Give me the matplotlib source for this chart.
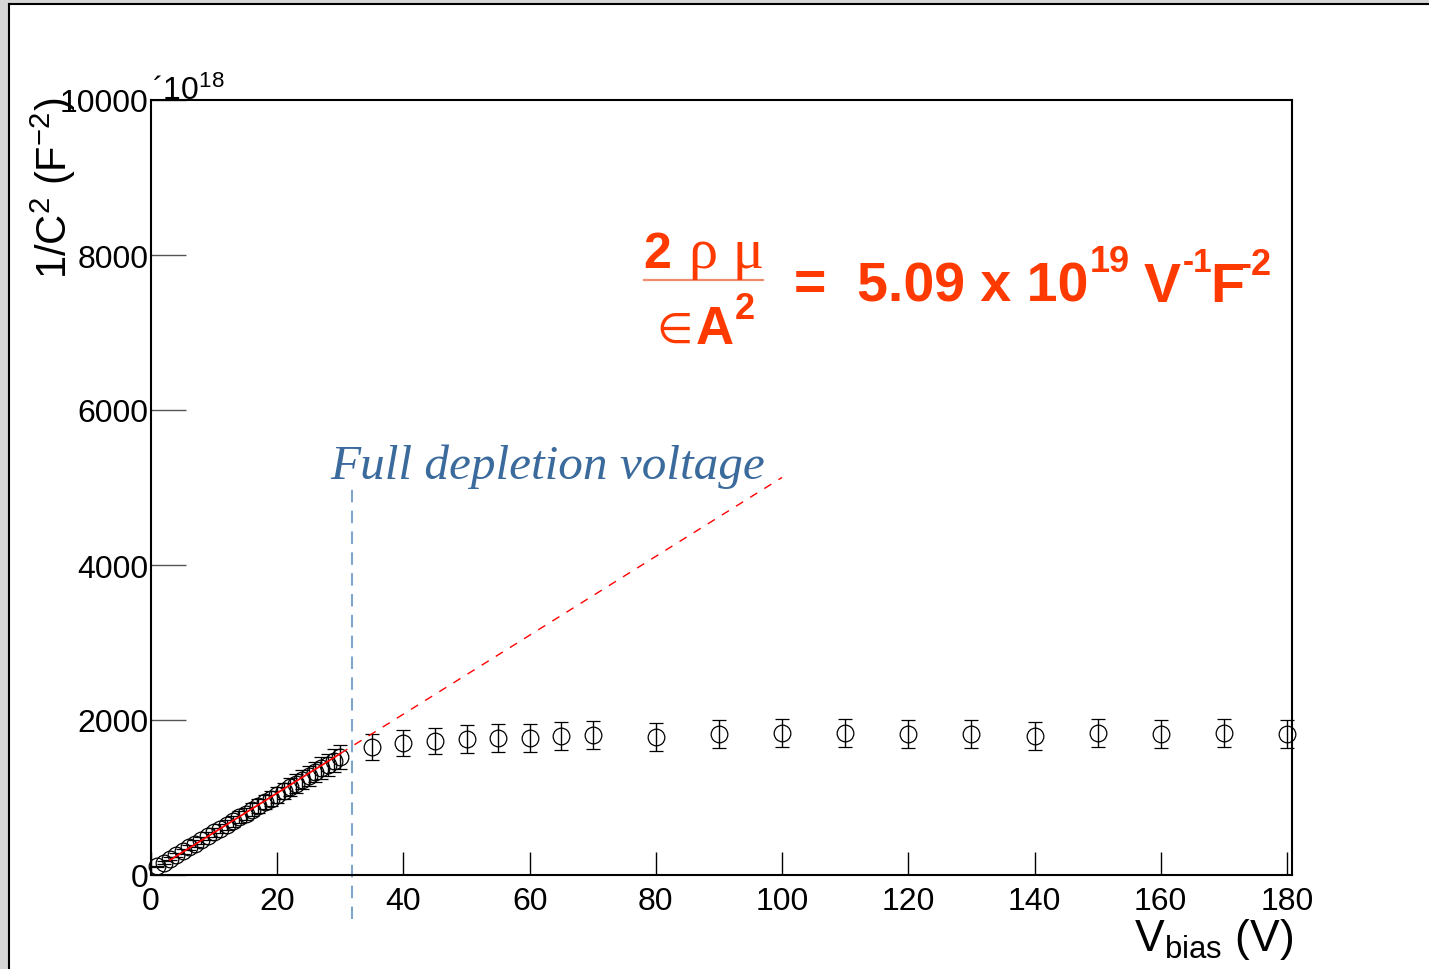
import matplotlib
matplotlib.use('Agg')

import numpy as np
import matplotlib.pyplot as plt
from matplotlib.patches import Rectangle
from matplotlib.lines import Line2D

plt.rcParams['font.family'] = ['Liberation Sans', 'DejaVu Sans']
plt.rcParams['mathtext.fontset'] = 'custom'
plt.rcParams['mathtext.rm'] = 'Liberation Sans'
plt.rcParams['mathtext.it'] = 'Liberation Sans:italic'
plt.rcParams['mathtext.bf'] = 'Liberation Sans:bold'

# Datos: 1/C^2 (en unidades de 1e18 F^-2) vs V_bias
v_low = [1, 2, 3, 4, 5, 6, 7, 8, 9, 10, 11, 12, 13, 14, 15,
         16, 17, 18, 19, 20, 21, 22, 23, 24, 25, 26, 27, 28, 29, 30]
c2_low = [110, 160, 210, 255, 305, 355, 405, 450, 500, 550, 600, 645, 695, 745, 790,
          840, 890, 940, 985, 1035, 1085, 1135, 1180, 1230, 1280, 1330, 1380, 1425, 1475, 1525]
v_high = [35, 40, 45, 50, 55, 60, 65, 70, 80, 90, 100, 110, 120, 130, 140, 150, 160, 170, 180]
c2_high = [1650, 1700, 1730, 1755, 1770, 1770, 1790, 1805, 1780, 1820, 1830, 1830,
           1820, 1820, 1795, 1830, 1820, 1830, 1820]

# errores ~10 %
v_all = np.array(v_low + v_high, dtype=float)
c2_all = np.array(c2_low + c2_high, dtype=float)
err = 0.1 * c2_all

# ajuste lineal
pend = 50.9
corte = 40.0
v_fit = [3.0, 30.0]
v_ext = [30.0, 100.0]
v_dep = 31.85

W, H = 1429, 970
fig = plt.figure(figsize=(W / 100, H / 100), dpi=100)
fig.patch.set_facecolor('white')

def fx(px):
    return px / W

def fy(py):
    return 1 - py / H

# marco gris de la ventana
fig.patches.append(Rectangle((0, 0), fx(8), 1, transform=fig.transFigure, color='#d6d6d6', zorder=0))
fig.patches.append(Rectangle((0, fy(4)), 1, 4 / H, transform=fig.transFigure, color='#d6d6d6', zorder=0))
fig.lines.append(Line2D([fx(8.5), fx(8.5)], [0, fy(4.5)], transform=fig.transFigure, color='black', lw=1.5))
fig.lines.append(Line2D([fx(8.5), 1], [fy(4.5), fy(4.5)], transform=fig.transFigure, color='black', lw=1.5))

ax = fig.add_axes([fx(151), fy(876), fx(1292) - fx(151), fy(101) - fy(876)])
ax.set_xlim(0, 180.8)
ax.set_ylim(0, 10000)

ax.errorbar(v_all, c2_all, yerr=err, fmt='o', mfc='none', mec='black', ecolor='black',
            ms=12, mew=0.9, elinewidth=1.0, capsize=5, capthick=1.0, zorder=3, clip_on=False)

vf = np.array(v_fit)
ax.plot(vf, pend * vf + corte, color='red', lw=1.3, zorder=4)
ve = np.array(v_ext)
ax.plot(ve, pend * ve + corte, color='red', lw=1.0, ls=(0, (6, 6)), zorder=4)

ax.plot([v_dep, v_dep], [-570, 4980], color='#7ea6cc', lw=1.5, ls=(0, (6, 4)), clip_on=False, zorder=2)

ax.set_xticks(range(0, 181, 20))
ax.set_yticks(range(0, 10001, 2000))
ax.set_yticklabels(['0', '2000', '4000', '6000', '8000', '10000'])
ax.tick_params(axis='x', direction='in', length=16.5, width=1.0, labelsize=23, pad=8)
ax.tick_params(axis='y', direction='in', length=25, width=1.0, labelsize=23, pad=2, color='#555555')
for s in ax.spines.values():
    s.set_linewidth(1.5)

# etiquetas de ejes al estilo ROOT
fig.text(fx(1293), fy(940), r'V$_{\mathrm{bias}}$ (V)', ha='right', va='center', fontsize=32)
fig.text(fx(53), fy(98), r'1/C$^2$ (F$^{-2}$)', rotation=90, ha='center', va='top', fontsize=30)
fig.text(fx(152), fy(100), '´10$^{18}$', ha='left', va='baseline', fontsize=23)

# texto de agotamiento
fig.text(fx(330), fy(479), 'Full depletion voltage', family='Liberation Serif', style='italic',
         color='#3b6a9c', fontsize=35.5, ha='left', va='baseline')

# fórmula
rojo = '#ff3a00'
fig.text(fx(643), fy(268), '2', fontsize=36, fontweight='bold', color=rojo, va='baseline')
fig.text(fx(689), fy(268), 'ρ μ', fontsize=42, family=['Liberation Serif', 'DejaVu Serif'], color=rojo, va='baseline')
fig.lines.append(Line2D([fx(644), fx(763)], [fy(281), fy(281)], transform=fig.transFigure, color='#f08a70', lw=1.6))
fig.text(fx(656), fy(343), '∈', fontsize=30, family=['DejaVu Sans'], color=rojo, va='baseline')
fig.text(fx(696), fy(344), 'A', fontsize=38, fontweight='bold', color=rojo, va='baseline')
fig.text(fx(735), fy(319), '2', fontsize=26, fontweight='bold', color=rojo, va='baseline')
fig.text(fx(794), fy(300), '=', fontsize=40, fontweight='bold', color=rojo, va='baseline')
fig.text(fx(857), fy(302), '5.09 x 10', fontsize=40, fontweight='bold', color=rojo, va='baseline')
fig.text(fx(1090), fy(272), '19', fontsize=26, fontweight='bold', color=rojo, va='baseline')
fig.text(fx(1144), fy(302), 'V', fontsize=40, fontweight='bold', color=rojo, va='baseline')
fig.text(fx(1183), fy(272), '-1', fontsize=24, fontweight='bold', color=rojo, va='baseline')
fig.text(fx(1210), fy(302), 'F', fontsize=40, fontweight='bold', color=rojo, va='baseline')
fig.text(fx(1240), fy(275), '-2', fontsize=26, fontweight='bold', color=rojo, va='baseline')

fig.savefig('out.png', dpi=100)
